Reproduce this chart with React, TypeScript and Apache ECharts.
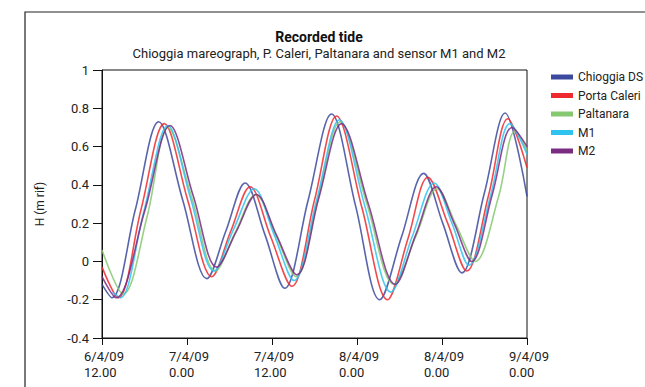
import React, { useEffect, useRef } from "react";
import * as echarts from "echarts";

// hours from 6/4/09 12.00
const tickDates = ["6/4/09", "7/4/09", "7/4/09", "8/4/09", "8/4/09", "9/4/09"];
const tickTimes = ["12.00", "0.00", "12.00", "0.00", "0.00", "0.00"];
const yTicks = ["-0.4", "-0.2", "0", "0.2", "0.4", "0.6", "0.8", "1"];

const seriesNames = ["Chioggia DS", "Porta Caleri", "Paltanara", "M1", "M2"];
const seriesColors = ["#3b4a9e", "#ee2a2e", "#86c870", "#2fc3f0", "#7a2c82"];

const chioggia: [number, number][] = [
  [0, -0.12], [1.4, -0.19], [4.7, 0.27], [8.0, 0.73], [11.4, 0.32], [14.8, -0.09],
  [17.5, 0.16], [20.2, 0.41], [23.0, 0.14], [25.8, -0.14], [29.1, 0.32], [32.4, 0.77],
  [35.8, 0.29], [39.2, -0.2], [42.3, 0.13], [45.4, 0.46], [48.1, 0.2], [50.8, -0.06],
  [54.0, 0.36], [56.9, 0.775], [60, 0.34],
];
const portaCaleri: [number, number][] = [
  [0, -0.03], [2.3, -0.19], [5.5, 0.27], [8.8, 0.72], [12.1, 0.32], [15.5, -0.08],
  [18.2, 0.16], [20.9, 0.39], [23.8, 0.13], [26.8, -0.13], [30.0, 0.32], [33.1, 0.76],
  [36.7, 0.28], [40.3, -0.2], [43.2, 0.12], [46.0, 0.44], [48.8, 0.2], [51.5, -0.05],
  [54.6, 0.35], [57.3, 0.745], [60, 0.49],
];
const paltanara: [number, number][] = [
  [0, 0.06], [3.0, -0.17], [6.4, 0.24], [9.3, 0.7], [12.7, 0.33], [16.0, -0.05],
  [18.8, 0.15], [21.7, 0.35], [24.5, 0.14], [27.4, -0.08], [30.5, 0.33], [33.6, 0.73],
  [37.4, 0.3], [41.2, -0.12], [44.3, 0.13], [47.3, 0.38], [50.0, 0.19], [52.7, 0.0],
  [56.0, 0.34], [58.3, 0.68], [60, 0.58],
];
const m1: [number, number][] = [
  [1.5, -0.16], [2.6, -0.19], [5.9, 0.26], [9.3, 0.71], [12.5, 0.33], [15.8, -0.05],
  [18.6, 0.17], [21.5, 0.38], [24.3, 0.14], [27.1, -0.1], [30.3, 0.32], [33.5, 0.74],
  [37.1, 0.29], [40.8, -0.16], [43.8, 0.13], [46.9, 0.41], [49.4, 0.2], [51.8, -0.02],
  [54.9, 0.35], [57.6, 0.72], [60, 0.56],
];
const m2: [number, number][] = [
  [0, -0.08], [2.0, -0.19], [6.0, 0.26], [9.6, 0.71], [12.9, 0.34], [16.2, -0.03],
  [19.0, 0.16], [21.8, 0.35], [24.6, 0.14], [27.5, -0.07], [30.6, 0.33], [33.8, 0.72],
  [37.6, 0.3], [41.4, -0.12], [44.3, 0.14], [47.2, 0.39], [49.7, 0.2], [52.2, 0.0],
  [55.1, 0.35], [57.9, 0.7], [60, 0.6],
];
const seriesData = [chioggia, portaCaleri, paltanara, m1, m2];

const FONT = "Roboto, 'DejaVu Sans', sans-serif";

export default function App() {
  const ref = useRef<HTMLDivElement>(null);
  useEffect(() => {
    if (!ref.current) return;
    const chart = echarts.init(ref.current, undefined, { renderer: "svg" });
    chart.setOption({
      animation: false,
      backgroundColor: "#ffffff",
      title: {
        text: "Recorded tide",
        subtext: "Chioggia mareograph, P. Caleri, Paltanara and sensor M1 and M2",
        left: 314,
        textAlign: "center",
        top: 25,
        itemGap: 3,
        textStyle: { fontFamily: FONT, fontSize: 14, fontWeight: "bold", color: "#111" },
        subtextStyle: { fontFamily: FONT, fontSize: 13, color: "#222" },
      },
      graphic: [
        {
          type: "rect",
          shape: { x: 25, y: 12, width: 700, height: 500 },
          style: { fill: "none", stroke: "#222", lineWidth: 1.2 },
          silent: true,
        },
      ],
      legend: {
        data: seriesNames,
        orient: "vertical",
        left: 546,
        top: 65,
        icon: "rect",
        itemWidth: 22,
        itemHeight: 5,
        itemGap: 4.5,
        textStyle: { fontFamily: FONT, fontSize: 12, color: "#222", lineHeight: 14 },
      },
      grid: {
        left: 102,
        right: 118,
        top: 70,
        bottom: 49,
        show: true,
        borderColor: "#111",
        borderWidth: 1,
        containLabel: false,
      },
      xAxis: {
        type: "value",
        min: 0,
        max: 60,
        interval: 12,
        axisLine: { show: true, onZero: false, lineStyle: { color: "#111", width: 1 } },
        axisTick: { show: true, length: 7, lineStyle: { color: "#111" } },
        splitLine: { show: false },
        axisLabel: {
          margin: 10,
          fontFamily: FONT,
          fontSize: 13,
          color: "#222",
          lineHeight: 16,
          padding: [0, 0, 0, 10],
          formatter: (v: number) => {
            const i = Math.round(v / 12);
            return `{a|${tickDates[i]}}\n{a|${tickTimes[i]}}`;
          },
          rich: { a: { width: 46, align: "left", fontFamily: FONT, fontSize: 13, color: "#222", lineHeight: 16 } },
        },
      },
      yAxis: {
        type: "value",
        min: -0.4,
        max: 1,
        interval: 0.2,
        name: "H (m rif)",
        nameLocation: "middle",
        nameGap: 56,
        nameTextStyle: { fontFamily: FONT, fontSize: 12, color: "#222" },
        axisLine: { show: true, onZero: false, lineStyle: { color: "#111", width: 1 } },
        axisTick: { show: true, length: 9, lineStyle: { color: "#111" } },
        splitLine: { show: false },
        axisLabel: {
          margin: 13,
          fontFamily: FONT,
          fontSize: 13,
          color: "#222",
          formatter: (v: number) => {
            const i = Math.round((v + 0.4) / 0.2);
            return yTicks[i];
          },
        },
      },
      series: seriesNames.map((name, i) => ({
        name,
        type: "line",
        data: seriesData[i],
        smooth: 0.35,
        showSymbol: false,
        symbol: "none",
        color: seriesColors[i],
        lineStyle: { width: 1.6, color: seriesColors[i], opacity: 0.85 },
      })),
    });
    return () => chart.dispose();
  }, []);
  return (
    <div
      ref={ref}
      style={{ position: "fixed", left: 0, top: 0, width: 645, height: 387 }}
    />
  );
}
